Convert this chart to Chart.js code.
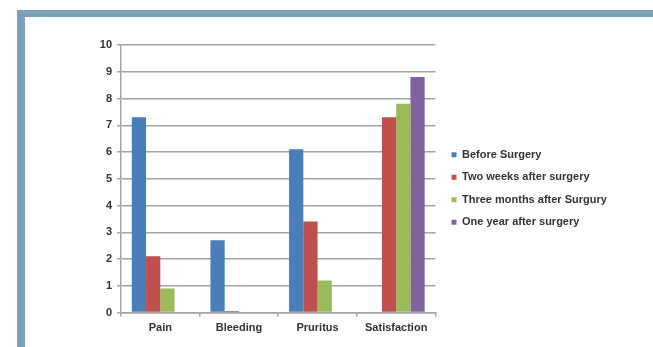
<!DOCTYPE html>
<html>
<head>
<meta charset="utf-8">
<script src="https://cdn.jsdelivr.net/npm/chart.js@4.4.1/dist/chart.umd.min.js"></script>
<style>
    html, body { margin: 0; padding: 0; background: #fff; }
    #wrap { position: relative; width: 653px; height: 347px; overflow: hidden; }
    .bar-top { position: absolute; left: 17px; top: 10px; width: 636px; height: 7px; background: #7ba0b9; }
    .bar-left { position: absolute; left: 17px; top: 10px; width: 8px; height: 337px; background: #7ba0b9; }
    #chart { position: absolute; left: 0; top: 0; }
</style>
</head>
<body>
<div id="wrap">
    <div class="bar-top"></div>
    <div class="bar-left"></div>
    <canvas id="chart" width="653" height="347"></canvas>
</div>
<script>
const categories = ['Pain', 'Bleeding', 'Pruritus', 'Satisfaction'];
const seriesNames = ['Before Surgery', 'Two weeks after surgery', 'Three months after Surgury', 'One year after surgery'];
const beforeSurgery = [7.3, 2.7, 6.1, 0];
const twoWeeks = [2.1, 0.06, 3.4, 7.3];
const threeMonths = [0.9, 0, 1.2, 7.8];
const oneYear = [0, 0, 0.03, 8.8];
const yTicks = [0, 1, 2, 3, 4, 5, 6, 7, 8, 9, 10];

const colors = ['#4a7ebb', '#c0504d', '#9bbb59', '#8064a2'];
const gridColor = '#a4a4a4';
const textFont = { family: '"Liberation Sans", Arial, sans-serif', size: 11, weight: 'bold' };

const canvas = document.getElementById('chart');

// pad on the right so the plot ends near x 434.5 (tuned by eye against the legend width)
const mctx = canvas.getContext('2d');
mctx.font = 'bold 11px "Liberation Sans", Arial, sans-serif';
const labelW = Math.max(...seriesNames.map(n => mctx.measureText(n).width));
const padRight = 653 - 434.5 - (labelW + 1.3);

// move the legend over to where the original sits, chart area stays put
const legendShift = {
    id: 'legendShift',
    afterLayout(chart) {
        const l = chart.legend;
        l.left = 440;
        l.right = 653;
        l.width = 213;
        l.top -= 7.5;
        l.bottom -= 7.5;
    }
};

new Chart(canvas, {
    type: 'bar',
    data: {
        labels: categories,
        datasets: [beforeSurgery, twoWeeks, threeMonths, oneYear].map((d, i) => ({
            label: seriesNames[i],
            data: d,
            backgroundColor: colors[i],
            borderWidth: 0,
            barPercentage: 1,
            categoryPercentage: 0.725
        }))
    },
    options: {
        responsive: false,
        animation: false,
        layout: { padding: { top: 45, left: 0, right: padRight, bottom: 0 } },
        plugins: {
            tooltip: { enabled: false },
            legend: {
                position: 'right',
                labels: {
                    boxWidth: 5,
                    boxHeight: 5,
                    padding: 11.5,
                    color: '#333',
                    font: textFont
                }
            }
        },
        scales: {
            x: {
                afterFit: s => { s.height = 34.5; },
                grid: { drawOnChartArea: false, drawTicks: true, tickLength: 4, color: gridColor, lineWidth: 1.5, offset: true },
                border: { color: gridColor, width: 1.5 },
                ticks: { color: '#333', font: textFont, padding: 5 }
            },
            y: {
                min: 0,
                max: 10,
                afterFit: s => { s.width = 121; },
                afterBuildTicks: s => { s.ticks = yTicks.map(v => ({ value: v })); },
                grid: { color: gridColor, lineWidth: 1.5, tickLength: 4 },
                border: { color: gridColor, width: 1.5 },
                ticks: { color: '#333', font: textFont, padding: 5 }
            }
        }
    },
    plugins: [legendShift]
});
</script>
</body>
</html>
